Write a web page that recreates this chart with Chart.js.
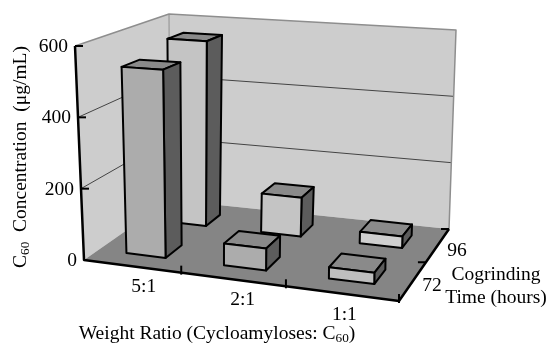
<!DOCTYPE html>
<html>
<head>
<meta charset="utf-8">
<title>C60 concentration</title>
<script src="https://cdn.jsdelivr.net/npm/chart.js@4"></script>
<style>
  body { margin: 0; background: #fff; }
  canvas { display: block; }
</style>
</head>
<body>
<canvas id="chart" width="547" height="344"></canvas>
<script>
// data
const ratios = ["5:1", "2:1", "1:1"];
const hours = ["72", "96"];
const values72 = [530, 60, 30];
const values96 = [560, 115, 33];
const concentrationTicks = [0, 200, 400, 600];
const colors72 = ["#acacac", "#acacac", "#bebebe"];
const colors96 = ["#c4c4c4", "#c4c4c4", "#d0d0d0"];

// where the floor and the top of the box land on the page (front-left, front-right, back-right, back-left)
const floorCorners = [[84, 260], [399, 301], [449, 229], [170, 200]];
const topCorners = [[75, 46], [398, 66], [456, 30], [169, 14]];

const serif = '"Liberation Serif", serif';
const fontSize = 19.5;
const depthShare = 0.38;
const ratioNudge = [12, 10, 3];

// unit square -> quad, so the far categories come out narrower like in a real perspective view
function makeHomography(c) {
  const dx1 = c[1][0] - c[2][0], dx2 = c[3][0] - c[2][0], sx = c[0][0] - c[1][0] + c[2][0] - c[3][0];
  const dy1 = c[1][1] - c[2][1], dy2 = c[3][1] - c[2][1], sy = c[0][1] - c[1][1] + c[2][1] - c[3][1];
  const det = dx1 * dy2 - dx2 * dy1;
  const g = (sx * dy2 - dx2 * sy) / det;
  const h = (dx1 * sy - sx * dy1) / det;
  return function (u, v) {
    const d = 1 + g * u + h * v;
    return [
      (c[0][0] + (c[1][0] - c[0][0] + g * c[1][0]) * u + (c[3][0] - c[0][0] + h * c[3][0]) * v) / d,
      (c[0][1] + (c[1][1] - c[0][1] + g * c[1][1]) * u + (c[3][1] - c[0][1] + h * c[3][1]) * v) / d,
    ];
  };
}
const onFloor = makeHomography(floorCorners);
const onTop = makeHomography(topCorners);

function project(u, v, w) {
  const a = onFloor(u, v), b = onTop(u, v);
  return [a[0] + (b[0] - a[0]) * w, a[1] + (b[1] - a[1]) * w];
}

function poly(ctx, points, fill, stroke, lineWidth) {
  ctx.beginPath();
  points.forEach(function (p, i) {
    if (i === 0) ctx.moveTo(p[0], p[1]);
    else ctx.lineTo(p[0], p[1]);
  });
  if (fill) {
    ctx.closePath();
    ctx.fillStyle = fill;
    ctx.fill();
  }
  if (stroke) {
    ctx.strokeStyle = stroke;
    ctx.lineWidth = lineWidth;
    ctx.lineJoin = "round";
    ctx.stroke();
  }
}

// bar controller that turns each bar into a box, the sizes come from the bar elements and scales
class Box3dController extends Chart.BarController {
  draw() {
    const chart = this.chart;
    const ctx = chart.ctx;
    const xs = chart.scales.x, ys = chart.scales.y, zs = chart.scales.depth;
    const zCenter = (zs.getPixelForValue(this.index) - zs.left) / zs.width;
    const halfDepth = (depthShare / hours.length) / 2;
    const v0 = zCenter - halfDepth, v1 = zCenter + halfDepth;

    this.getMeta().data.forEach(function (bar) {
      const u0 = (bar.x - bar.width / 2 - xs.left) / xs.width;
      const u1 = (bar.x + bar.width / 2 - xs.left) / xs.width;
      const w = (ys.bottom - bar.y) / (ys.bottom - ys.top);
      poly(ctx, [project(u0, v0, w), project(u1, v0, w), project(u1, v1, w), project(u0, v1, w)], "#8a8a8a", "#000", 2);
      poly(ctx, [project(u1, v0, 0), project(u1, v1, 0), project(u1, v1, w), project(u1, v0, w)], "#5c5c5c", "#000", 2);
      poly(ctx, [project(u0, v0, 0), project(u1, v0, 0), project(u1, v0, w), project(u0, v0, w)], bar.options.backgroundColor, "#000", 2);
    });
  }
}
Box3dController.id = "box3d";
Box3dController.defaults = Chart.BarController.defaults;
Box3dController.overrides = Chart.BarController.overrides;
Chart.register(Box3dController);

// walls, floor and axes, behind the boxes
const boxFrame = {
  id: "boxFrame",
  beforeDatasetsDraw(chart) {
    const ctx = chart.ctx;
    const ys = chart.scales.y;
    const heightOf = (value) => (ys.bottom - ys.getPixelForValue(value)) / (ys.bottom - ys.top);

    poly(ctx, [project(0, 0, 0), project(0, 1, 0), project(0, 1, 1), project(0, 0, 1)], "#cdcdcd");
    poly(ctx, [project(0, 1, 0), project(1, 1, 0), project(1, 1, 1), project(0, 1, 1)], "#cdcdcd");
    poly(ctx, [project(0, 0, 0), project(1, 0, 0), project(1, 1, 0), project(0, 1, 0)], "#858585");

    // grid lines on both walls
    concentrationTicks.slice(1, -1).forEach(function (t) {
      const w = heightOf(t);
      poly(ctx, [project(0, 0, w), project(0, 1, w), project(1, 1, w)], null, "#444", 1);
    });
    poly(ctx, [project(0, 0, 1), project(0, 1, 1), project(1, 1, 1), project(1, 1, 0)], null, "#8e8e8e", 1.5);
    poly(ctx, [project(0, 1, 1), project(0, 1, 0)], null, "#8e8e8e", 1);

    // heavy axis lines
    poly(ctx, [project(0, 0, 1), project(0, 0, 0), project(1, 0, 0), project(1, 1, 0)], null, "#000", 2.5);

    // tick marks
    concentrationTicks.slice(1).forEach(function (t) {
      const p = project(0, 0, heightOf(t));
      poly(ctx, [p, [p[0] + 8, p[1]]], null, "#000", 2);
    });
    ratios.forEach(function (r, i) {
      const p = project((i + 1) / ratios.length, 0, 0);
      poly(ctx, [[p[0], p[1] + 2], [p[0], p[1] - 7]], null, "#000", 2);
    });
    hours.forEach(function (h, i) {
      const p = project(1, (i + 1) / hours.length, 0);
      poly(ctx, [p, [p[0] - 8, p[1]]], null, "#000", 2);
    });
  },
};

// text runs so the 60 in C60 can sit lower and smaller
function textRuns(ctx, x, y, runs, size) {
  ctx.textAlign = "left";
  ctx.textBaseline = "alphabetic";
  let total = 0;
  runs.forEach(function (r) {
    ctx.font = (r.sub ? size * 0.68 : size) + "px " + serif;
    total += ctx.measureText(r.text).width;
  });
  let pos = x - total / 2;
  runs.forEach(function (r) {
    ctx.font = (r.sub ? size * 0.68 : size) + "px " + serif;
    ctx.fillText(r.text, pos, y + (r.sub ? 3 : 0));
    pos += ctx.measureText(r.text).width;
  });
}

const boxLabels = {
  id: "boxLabels",
  afterDraw(chart) {
    const ctx = chart.ctx;
    const ys = chart.scales.y;
    ctx.save();
    ctx.fillStyle = "#000";
    ctx.font = fontSize + "px " + serif;
    ctx.textBaseline = "middle";

    ctx.textAlign = "right";
    concentrationTicks.forEach(function (t) {
      const p = project(0, 0, (ys.bottom - ys.getPixelForValue(t)) / (ys.bottom - ys.top));
      ctx.fillText(String(t), p[0] - 7, p[1] + 1);
    });

    ctx.textAlign = "center";
    ratios.forEach(function (r, i) {
      const p = project((i + 0.5) / ratios.length, 0, 0);
      ctx.fillText(r, p[0] + ratioNudge[i], p[1] + 21);
    });
    hours.forEach(function (h, i) {
      const p = project(1, (i + 0.5) / hours.length, 0);
      ctx.fillText(h, p[0] + 19, p[1] + 5.5);
    });

    ctx.fillText("Cogrinding", 496, 275);
    ctx.fillText("Time (hours)", 496, 298);

    textRuns(ctx, 217, 339, [
      { text: "Weight Ratio (Cycloamyloses: C" },
      { text: "60", sub: true },
      { text: ")" },
    ], fontSize);

    ctx.save();
    ctx.translate(26, 157);
    ctx.rotate(-Math.PI / 2);
    textRuns(ctx, 0, 0, [
      { text: "C" },
      { text: "60", sub: true },
      { text: "  Concentration  (μg/mL)" },
    ], fontSize);
    ctx.restore();
    ctx.restore();
  },
};

new Chart(document.getElementById("chart"), {
  type: "box3d",
  data: {
    labels: ratios,
    datasets: [
      { label: hours[0] + " h", data: values72, backgroundColor: colors72 },
      { label: hours[1] + " h", data: values96, backgroundColor: colors96 },
    ],
  },
  options: {
    responsive: false,
    animation: false,
    layout: { padding: 0 },
    grouped: false,
    categoryPercentage: 0.41,
    barPercentage: 1,
    plugins: { legend: { display: false }, tooltip: { enabled: false } },
    scales: {
      x: { type: "category", display: false, offset: true },
      y: { type: "linear", display: false, min: 0, max: 600 },
      depth: { type: "category", axis: "x", position: "bottom", display: false, offset: true, labels: hours },
    },
  },
  plugins: [boxFrame, boxLabels],
});
</script>
</body>
</html>
